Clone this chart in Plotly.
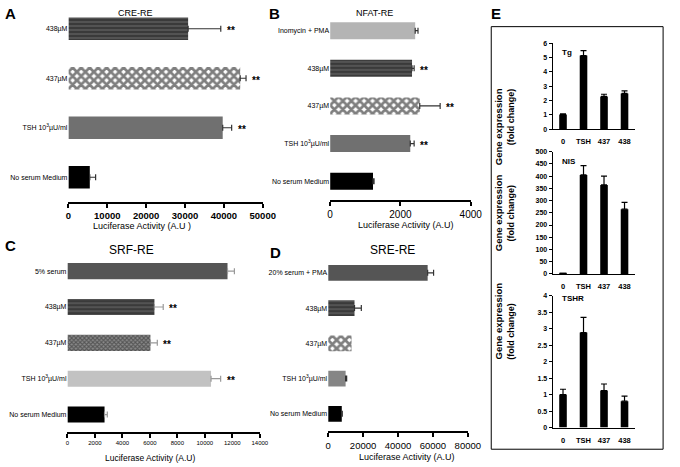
import plotly.graph_objects as go

W, H = 680, 467
FONT = "Liberation Sans, Arial, sans-serif"

# ---------------- data ----------------
TSH_LBL = "TSH 10<sup>3</sup>µU/ml"

A_cats = ["438µM", "437µM", TSH_LBL, "No serum Medium"]
A_vals = [30800, 44200, 39700, 5500]
A_errs = [8400, 1500, 2300, 1500]
A_stars = [True, True, True, False]
A_ticks = [0, 10000, 20000, 30000, 40000, 50000]

B_cats = ["Inomycin + PMA", "438µM", "437µM", TSH_LBL, "No serum Medium"]
B_vals = [2420, 2330, 2550, 2280, 1220]
B_errs = [80, 60, 580, 110, 30]
B_stars = [False, True, True, True, False]
B_ticks = [0, 2000, 4000]

C_cats = ["5% serum", "438µM", "437µM", TSH_LBL, "No serum Medium"]
C_vals = [11650, 6330, 6040, 10450, 2700]
C_errs = [500, 640, 500, 700, 200]
C_stars = [False, True, True, True, False]
C_ticks = [0, 2000, 4000, 6000, 8000, 10000, 12000, 14000]

D_cats = ["20% serum + PMA", "438µM", "437µM", TSH_LBL, "No serum Medium"]
D_vals = [57000, 15100, 13400, 10000, 7800]
D_errs = [3400, 3900, None, 600, 300]
D_stars = [False, False, False, False, False]
D_ticks = [0, 20000, 40000, 60000, 80000]

E_cats = ["0", "TSH", "437", "438"]
Tg_vals = [1.02, 5.15, 2.29, 2.5]
Tg_errs = [0.05, 0.35, 0.15, 0.17]
NIS_vals = [2, 405, 364, 265]
NIS_errs = [0, 38, 36, 28]
TSHR_vals = [1.0, 2.88, 1.12, 0.8]
TSHR_errs = [0.16, 0.46, 0.2, 0.15]

# ---------------- helpers ----------------
def fx(p):
    return p / W

def fy(p):
    return 1 - p / H

STYLES = {
    "stripe": dict(color="#3a3a3a", pattern=dict(shape="-", fgcolor="#a0a0a0", size=4,
                                                  solidity=0.25, fillmode="overlay")),
    "checker": dict(color="white", pattern=dict(shape="x", fgcolor="black", size=6,
                                                 solidity=0.7, fillmode="overlay")),
    "fine": dict(color="#8a8a8a", pattern=dict(shape="x", fgcolor="#222222", size=3,
                                                solidity=0.6, fillmode="overlay")),
    "black": dict(color="black"),
    "dark": dict(color="#555555"),
    "mid": dict(color="#707070"),
    "mid2": dict(color="#858585"),
    "light": dict(color="#b4b4b4"),
    "light2": dict(color="#c2c2c2"),
}

panels = [
    dict(n="", ov="8", cats=A_cats, vals=A_vals, errs=A_errs, stars=A_stars, ticks=A_ticks,
         styles=["stripe", "checker", "mid", "black"], xd=(67, 266), yd=(0, 201),
         tickfont=dict(size=9.5, weight="bold"), ecol="#333"),
    dict(n="2", ov="9", cats=B_cats, vals=B_vals, errs=B_errs, stars=B_stars, ticks=B_ticks,
         styles=["light", "stripe", "checker", "mid", "black"], xd=(335, 479), yd=(8, 199),
         tickfont=dict(size=10), ecol="#333"),
    dict(n="3", ov="10", cats=C_cats, vals=C_vals, errs=C_errs, stars=C_stars, ticks=C_ticks,
         styles=["dark", "stripe", "fine", "light2", "black"], xd=(66, 263), yd=(253, 435),
         tickfont=dict(size=6), ecol="#999"),
    dict(n="4", ov="11", cats=D_cats, vals=D_vals, errs=D_errs, stars=D_stars, ticks=D_ticks,
         styles=["dark", "stripe", "checker", "mid2", "black"], xd=(333, 476), yd=(255, 434),
         tickfont=dict(size=9.5), ecol="#333"),
]

fig = go.Figure()
annotations = []

for p in panels:
    for c, v, e, sname in zip(p["cats"], p["vals"], p["errs"], p["styles"]):
        st = STYLES[sname]
        marker = dict(color=st["color"], line=dict(width=0))
        if "pattern" in st:
            marker["pattern"] = st["pattern"]
        if e is None:
            err = dict(visible=False)
        else:
            err = dict(type="data", array=[e], arrayminus=[0], symmetric=False,
                       color=p["ecol"], thickness=1.2, width=3)
        fig.add_trace(go.Bar(
            x=[v], y=[c], orientation="h", width=0.45,
            xaxis="x" + p["n"], yaxis="y" + p["n"],
            marker=marker, error_x=err, showlegend=False, hoverinfo="skip",
        ))
    n = len(p["cats"])
    xmax = p["ticks"][-1]
    fig.update_layout(**{
        "xaxis" + p["n"]: dict(domain=[fx(p["xd"][0]), fx(p["xd"][1])], anchor="y" + p["n"],
                               range=[0, xmax], tickvals=p["ticks"], tickformat="d",
                               showline=True, linecolor="black", linewidth=1.5,
                               ticks="outside", ticklen=4, tickwidth=1.5, tickcolor="black",
                               showgrid=False, zeroline=False,
                               tickfont=dict(family=FONT, color="black", **p["tickfont"])),
        "yaxis" + p["n"]: dict(domain=[fy(p["yd"][1]), fy(p["yd"][0])], anchor="x" + p["n"],
                               range=[n - 0.5, -0.5], type="category",
                               categoryorder="array", categoryarray=p["cats"],
                               showline=False, showgrid=False, zeroline=False, ticks="",
                               tickfont=dict(family=FONT, size=7, color="black")),
        "xaxis" + p["ov"]: dict(overlaying="x" + p["n"], anchor="y" + p["n"], side="bottom",
                                range=[0, xmax], tickvals=p["ticks"], showline=False,
                                ticks="inside", ticklen=4, tickwidth=1.5, tickcolor="black",
                                showticklabels=False, showgrid=False, zeroline=False),
    })
    for c, v, e, s in zip(p["cats"], p["vals"], p["errs"], p["stars"]):
        if s:
            annotations.append(dict(x=v + (e or 0), y=c, xref="x" + p["n"], yref="y" + p["n"],
                                    text="**", showarrow=False, xanchor="left", xshift=4,
                                    yshift=-2, font=dict(family=FONT, size=10, weight="bold",
                                                         color="black")))

# ---------------- panel E ----------------
E_specs = [
    dict(n="5", vals=Tg_vals, errs=Tg_errs, yd=(40, 127), rng=[0, 6], dtick=1, name="Tg",
         star=True, ystar=12, xstar=-3),
    dict(n="6", vals=NIS_vals, errs=NIS_errs, yd=(150, 274), rng=[0, 500], dtick=50, name="NIS",
         star=True, ystar=0, xstar=-9),
    dict(n="7", vals=TSHR_vals, errs=TSHR_errs, yd=(296, 430), rng=[0, 4], dtick=0.5, name="TSHR",
         star=False, ystar=0, xstar=0),
]
for s in E_specs:
    fig.add_trace(go.Bar(
        x=E_cats, y=s["vals"], width=0.37, xaxis="x" + s["n"], yaxis="y" + s["n"],
        marker=dict(color="black", line=dict(width=0)),
        error_y=dict(type="data", array=s["errs"], arrayminus=[0] * len(s["errs"]),
                     symmetric=False, color="black", thickness=1.2, width=3),
        showlegend=False, hoverinfo="skip",
    ))
    fig.update_layout(**{
        "xaxis" + s["n"]: dict(domain=[fx(563), fx(647)], anchor="y" + s["n"], type="category",
                               range=[-0.5, 3.5], showline=True, linecolor="black", linewidth=1.2,
                               ticks="outside", ticklen=5, tickcolor="rgba(0,0,0,0)",
                               showgrid=False, zeroline=False,
                               tickfont=dict(family=FONT, size=7.5, weight="bold", color="black")),
        "yaxis" + s["n"]: dict(domain=[fy(s["yd"][1]), fy(s["yd"][0])], anchor="x" + s["n"],
                               range=s["rng"], dtick=s["dtick"], showline=True, linecolor="black",
                               linewidth=1.2, ticks="outside", ticklen=3, tickwidth=1,
                               tickcolor="black", showgrid=False, zeroline=False,
                               tickfont=dict(family=FONT, size=7, weight="bold", color="black")),
    })
    cy = (s["yd"][0] + s["yd"][1]) / 2
    annotations.append(dict(x=fx(515), y=fy(cy), xref="paper", yref="paper", text="Gene expression",
                            textangle=-90, showarrow=False,
                            font=dict(family=FONT, size=9.5, weight="bold", color="black")))
    annotations.append(dict(x=fx(527), y=fy(cy), xref="paper", yref="paper", text="(fold change)",
                            textangle=-90, showarrow=False,
                            font=dict(family=FONT, size=9, weight="bold", color="black")))
    annotations.append(dict(x=fx(570), y=fy(s["yd"][0] + 3), xref="paper", yref="paper",
                            text=s["name"], xanchor="left", showarrow=False,
                            font=dict(family=FONT, size=8, weight="bold", color="black")))
    if s["star"]:
        annotations.append(dict(x="437", y=s["vals"][2] + s["errs"][2], xref="x" + s["n"],
                                yref="y" + s["n"], text="**", showarrow=False, yanchor="bottom",
                                xshift=s["xstar"], yshift=s["ystar"],
                                font=dict(family=FONT, size=9, weight="bold", color="black")))

# ---------------- titles / labels ----------------
texts = [
    ("A", 8, 10, 15, "bold"), ("B", 278, 10, 15, "bold"), ("C", 8, 245, 15, "bold"),
    ("D", 279, 252, 15, "bold"), ("E", 505, 10, 15, "bold"),
    ("CRE-RE", 136, 9, 9, "normal"), ("NFAT-RE", 380, 9, 9, "normal"),
    ("SRF-RE", 132, 250, 12, "normal"), ("SRE-RE", 399, 250, 12, "normal"),
    ("Luciferase Activity (A.U )", 142, 225, 9, "normal"),
    ("Luciferase Activity (A.U)", 413, 224, 9, "normal"),
    ("Luciferase Activity (A.U)", 151, 461, 8.5, "normal"),
    ("Luciferase Activity (A.U)", 414, 460, 9, "normal"),
]
for t, x, y, sz, wt in texts:
    annotations.append(dict(x=fx(x), y=fy(y), xref="paper", yref="paper", text=t,
                            showarrow=False, xanchor="center", yanchor="middle",
                            font=dict(family=FONT, size=sz, weight=wt, color="black")))

fig.update_layout(
    width=W, height=H, margin=dict(l=0, r=0, t=0, b=0),
    paper_bgcolor="white", plot_bgcolor="white",
    font=dict(family=FONT, color="black"),
    barmode="overlay", annotations=annotations,
    shapes=[dict(type="rect", xref="paper", yref="paper", x0=fx(500), x1=fx(676),
                 y0=fy(452), y1=fy(23), line=dict(color="black", width=1))],
)

fig.write_html("out.html", config={"displayModeBar": False},
               post_script="document.body.style.margin='0';")
